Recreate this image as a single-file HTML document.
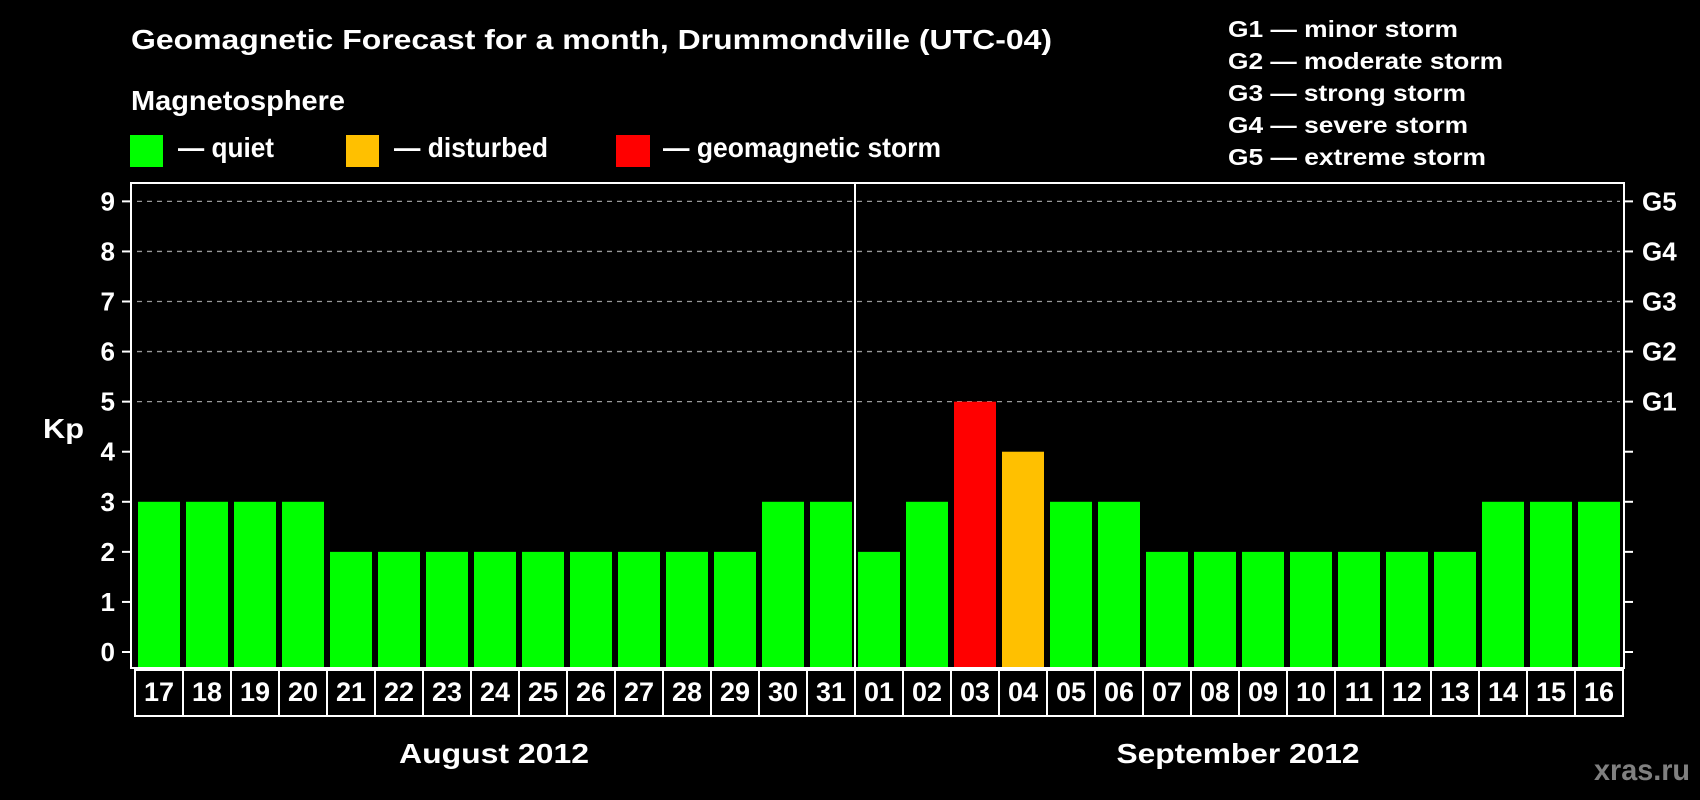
<!DOCTYPE html>
<html><head><meta charset="utf-8"><style>html,body{margin:0;padding:0;background:#000}svg{display:block}text{font-family:"Liberation Sans",Arial,sans-serif;font-weight:bold;fill:#fff}</style></head>
<body>
<svg id="chart" width="1700" height="800" viewBox="0 0 1700 800" xmlns="http://www.w3.org/2000/svg">
<rect x="0" y="0" width="1700" height="800" fill="#000"/>
<text x="131" y="49" font-size="28" textLength="921" lengthAdjust="spacingAndGlyphs">Geomagnetic Forecast for a month, Drummondville (UTC-04)</text>
<text x="131" y="110" font-size="28" textLength="214" lengthAdjust="spacingAndGlyphs">Magnetosphere</text>
<rect x="130" y="135" width="33" height="32" fill="#00ff00"/>
<text x="178" y="157" font-size="28" textLength="96" lengthAdjust="spacingAndGlyphs">— quiet</text>
<rect x="346" y="135" width="33" height="32" fill="#ffc000"/>
<text x="394" y="157" font-size="28" textLength="154" lengthAdjust="spacingAndGlyphs">— disturbed</text>
<rect x="616" y="135" width="34" height="32" fill="#ff0000"/>
<text x="663" y="157" font-size="28" textLength="278" lengthAdjust="spacingAndGlyphs">— geomagnetic storm</text>
<text x="1228" y="37" font-size="23" textLength="230" lengthAdjust="spacingAndGlyphs">G1 — minor storm</text>
<text x="1228" y="69" font-size="23" textLength="275" lengthAdjust="spacingAndGlyphs">G2 — moderate storm</text>
<text x="1228" y="101" font-size="23" textLength="238" lengthAdjust="spacingAndGlyphs">G3 — strong storm</text>
<text x="1228" y="133" font-size="23" textLength="240" lengthAdjust="spacingAndGlyphs">G4 — severe storm</text>
<text x="1228" y="165" font-size="23" textLength="258" lengthAdjust="spacingAndGlyphs">G5 — extreme storm</text>
<text x="43" y="438" font-size="28" textLength="41" lengthAdjust="spacingAndGlyphs">Kp</text>
<g id="grid"></g><g id="bars"></g><g id="axes"></g><g id="dates"></g>
<line x1="855" y1="183" x2="855" y2="668" stroke="#fff" stroke-width="2"/>
<rect x="131" y="183" width="1493" height="485" fill="none" stroke="#fff" stroke-width="2"/>
<text x="494" y="763" font-size="28" text-anchor="middle" textLength="190" lengthAdjust="spacingAndGlyphs">August 2012</text>
<text x="1238" y="763" font-size="28" text-anchor="middle" textLength="243" lengthAdjust="spacingAndGlyphs">September 2012</text>
<text x="1690" y="780" font-size="30" text-anchor="end" style="fill:#808080" textLength="96" lengthAdjust="spacingAndGlyphs">xras.ru</text>
</svg>
<script>
const days = ["17","18","19","20","21","22","23","24","25","26","27","28","29","30","31","01","02","03","04","05","06","07","08","09","10","11","12","13","14","15","16"];
const kpValues = [3,3,3,3,2,2,2,2,2,2,2,2,2,3,3,2,3,5,4,3,3,2,2,2,2,2,2,2,3,3,3];
const yTicks = [0,1,2,3,4,5,6,7,8,9];
const gLabels = ["G1","G2","G3","G4","G5"];
const gLevels = [5,6,7,8,9];

const NS = "http://www.w3.org/2000/svg";
const x0 = 135, pitch = 48, barW = 42;
function xPos(i){ return x0 + i * pitch; }
function yPos(v){ return 652 - v * 50.07; }
function colorFor(v){ return v >= 5 ? "#ff0000" : (v >= 4 ? "#ffc000" : "#00ff00"); }
function mk(tag, attrs, parent){ const e = document.createElementNS(NS, tag); for (const k in attrs) e.setAttribute(k, attrs[k]); parent.appendChild(e); return e; }

const grid = document.getElementById("grid"), bars = document.getElementById("bars"), axes = document.getElementById("axes"), dates = document.getElementById("dates");

gLevels.forEach((lv, i) => {
  const l = mk("line", {x1:137, x2:1620, y1:yPos(lv), y2:yPos(lv), stroke:"#9a9a9a", "stroke-width":1.3, "stroke-dasharray":"5 5"}, grid);
  
  
  const t = mk("text", {x:1642, y:yPos(lv)+9, "font-size":26}, axes);
  t.textContent = gLabels[i];
  
  
});

yTicks.forEach(v => {
  const tl = mk("line", {x1:122, x2:131, y1:yPos(v), y2:yPos(v), stroke:"#fff", "stroke-width":2}, axes);
  
  
  const tr = mk("line", {x1:1624, x2:1633, y1:yPos(v), y2:yPos(v), stroke:"#fff", "stroke-width":2}, axes);
  
  
  const t = mk("text", {x:115, y:yPos(v)+9, "font-size":26, "text-anchor":"end"}, axes);
  t.textContent = String(v);
  
  
});

kpValues.forEach((v, i) => {
  const r = mk("rect", {x:xPos(i)+3, y:yPos(v), width:barW, height:667 - yPos(v), fill:colorFor(v)}, bars);
  
  
  const b = mk("rect", {x:xPos(i), y:670, width:pitch, height:46, fill:"none", stroke:"#fff", "stroke-width":2}, dates);
  
  
  const t = mk("text", {x:xPos(i)+pitch/2, y:701, "font-size":27, "text-anchor":"middle"}, dates);
  t.textContent = days[i];
  
  
});
</script>
</body></html>
